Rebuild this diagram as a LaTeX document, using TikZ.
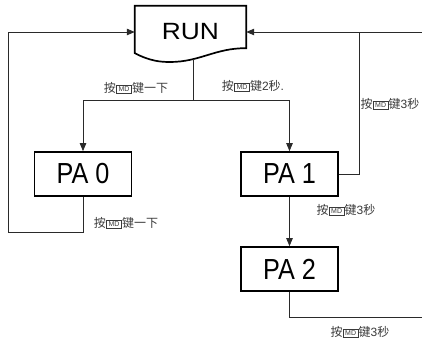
\documentclass[tikz,border=0pt]{standalone}
\usepackage{fontspec}
\setmainfont{Liberation Sans}
\newfontfamily\cjk{Noto Sans CJK SC}
\usetikzlibrary{arrows.meta}
\definecolor{ink}{HTML}{2A2A2A}
\definecolor{note}{HTML}{3A3A3A}
% small boxed "MD" key symbol
\newcommand{\mdkey}{{\setlength\fboxsep{0.9pt}\setlength\fboxrule{0.7pt}%
  \raisebox{0.8pt}{\fbox{\fontsize{7}{7}\selectfont\kern1pt MD\kern1pt}}}}
\newcommand{\keylabel}[1]{{\cjk 按}\mdkey{\cjk #1}}
\begin{document}
\begin{tikzpicture}[x=1pt,y=1pt,
  line/.style={draw=ink, line width=0.8pt},
  arr/.style={line, -{Triangle[length=8pt,width=6.5pt]}},
  pabox/.style={draw=black, line width=1.7pt, minimum width=97pt, minimum height=44pt, inner sep=0pt},
  note/.style={text=note, font=\fontsize{12}{12}\selectfont, inner sep=0pt}]
\useasboundingbox (0,0) rectangle (422,340);

% RUN display block (document-style outline)
\node[minimum width=111pt, minimum height=52pt, inner sep=0pt] (run) at (190.5,308)
  {\scalebox{1.12}[1]{\fontsize{23.5}{23.5}\selectfont RUN}};
\draw[black, line width=1.7pt, line join=miter]
  ([yshift=5pt]run.south west) -- (run.north west) -- (run.north east)
  -- ([yshift=10pt]run.south east)
  .. controls (215,292) and (200,278) .. (170,278)
  .. controls (160,278) and (150,279) .. ([yshift=5pt]run.south west) -- cycle;
\coordinate (runfoot) at (193,281);

% parameter blocks
\node[pabox] (pa0) at (83,166) {\scalebox{0.87}[1]{\fontsize{29}{29}\selectfont PA 0}};
\node[pabox] (pa1) at (289.5,166) {\scalebox{0.87}[1]{\fontsize{29}{29}\selectfont PA 1}};
\node[pabox] (pa2) at (289.5,71) {\scalebox{0.87}[1]{\fontsize{29}{29}\selectfont PA 2}};

% helper points for the return paths
\coordinate (split) at (193,240);
\coordinate (lcorner) at (8,108);
\coordinate (rjoin) at (359,308);
\coordinate (redge) at (422,308);
\coordinate (bedge) at (422,23);

% RUN -> PA0 / PA1
\draw[line] (runfoot) -- (split);
\draw[arr] (split) -| (pa0.north);
\draw[arr] (split) -| (pa1.north);

% PA0 -> RUN
\draw[line] (pa0.south) |- (lcorner);
\draw[arr] (lcorner) |- (run.west);

% PA1 -> RUN, PA1 -> PA2
\draw[line] (pa1.east) -| (rjoin);
\draw[arr] (redge) -- (run.east);
\draw[arr] (pa1.south) -- (pa2.north);

% PA2 exit
\draw[line] (pa2.south) |- (bedge);

% key labels
\node[note] (l1) at (136,252) {\keylabel{键一下}};
\node[note] (l2) at (253,254) {\keylabel{键}2{\cjk 秒}.};
\node[note] (l3) at (390,236) {\keylabel{键}3{\cjk 秒}};
\node[note] (l4) at (126,117) {\keylabel{键一下}};
\node[note] (l5) at (346,130) {\keylabel{键}3{\cjk 秒}};
\node[note] (l6) at (360,8) {\keylabel{键}3{\cjk 秒}};
\end{tikzpicture}
\end{document}
